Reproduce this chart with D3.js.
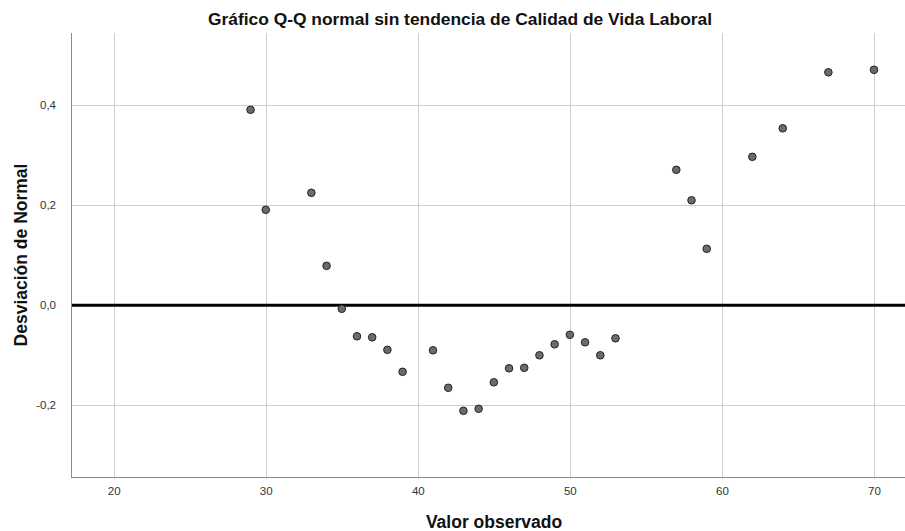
<!DOCTYPE html>
<html>
<head>
<meta charset="utf-8">
<script src="https://cdn.jsdelivr.net/npm/d3@7"></script>
<style>
  html, body { margin: 0; padding: 0; background: #fff; }
  svg { display: block; font-family: "Liberation Sans", Arial, sans-serif; }
</style>
</head>
<body>
<svg id="chart" width="905" height="531"></svg>
<script>
// Observed values and their deviation from the normal expectation
const observed = [29, 30, 33, 34, 35, 36, 37, 38, 39, 41, 42, 43, 44, 45, 46, 47, 48, 49, 50, 51, 52, 53, 57, 58, 59, 62, 64, 67, 70];
const deviation = [0.391, 0.191, 0.225, 0.079, -0.007, -0.062, -0.064, -0.089, -0.133, -0.090, -0.165, -0.211, -0.207, -0.154, -0.126, -0.125, -0.100, -0.078, -0.059, -0.074, -0.100, -0.066, 0.271, 0.210, 0.113, 0.297, 0.354, 0.466, 0.471];
const xTicks = [20, 30, 40, 50, 60, 70];
const yTicks = [-0.2, 0.0, 0.2, 0.4];

const title = "Gráfico Q-Q normal sin tendencia de Calidad de Vida Laboral";
const xTitle = "Valor observado";
const yTitle = "Desviación de Normal";

const plot = { left: 71, right: 905, top: 33, bottom: 477 };

const x = d3.scaleLinear().domain([17.192, 72.04]).range([plot.left, plot.right]);
const y = d3.scaleLinear().domain([-0.3434, 0.5446]).range([plot.bottom, plot.top]);

const svg = d3.select("#chart");
const fmt = v => d3.format(".1f")(v).replace(".", ",").replace("−", "-");

// Grid lines
svg.append("g").selectAll("line").data(xTicks).join("line")
  .attr("x1", d => Math.round(x(d)) + 0.5).attr("x2", d => Math.round(x(d)) + 0.5)
  .attr("y1", plot.top).attr("y2", plot.bottom)
  .attr("stroke", "#cfcfcf").attr("stroke-width", 1);
svg.append("g").selectAll("line").data(yTicks).join("line")
  .attr("x1", plot.left).attr("x2", plot.right)
  .attr("y1", d => Math.round(y(d)) + 0.5).attr("y2", d => Math.round(y(d)) + 0.5)
  .attr("stroke", "#cfcfcf").attr("stroke-width", 1);

// Axes
const xAxis = d3.axisBottom(x).tickValues(xTicks).tickFormat(d3.format("d")).tickSize(0).tickPadding(10);
const yAxis = d3.axisLeft(y).tickValues(yTicks).tickFormat(fmt).tickSize(0).tickPadding(15);

const gx = svg.append("g").attr("transform", `translate(0,${plot.bottom})`).call(xAxis);
const gy = svg.append("g").attr("transform", `translate(${plot.left},0)`).call(yAxis);
[gx, gy].forEach(g => {
  g.select(".domain").remove();
  g.selectAll("text").attr("font-size", 11.5).attr("fill", "#333")
    .attr("font-family", "'Liberation Sans', Arial, sans-serif");
});

svg.append("line").attr("x1", plot.left + 0.5).attr("x2", plot.left + 0.5)
  .attr("y1", plot.top).attr("y2", plot.bottom + 0.5)
  .attr("stroke", "#8a8a8a").attr("stroke-width", 1);
svg.append("line").attr("x1", plot.left).attr("x2", plot.right)
  .attr("y1", plot.bottom + 0.5).attr("y2", plot.bottom + 0.5)
  .attr("stroke", "#8a8a8a").attr("stroke-width", 1);

// Reference line at zero deviation
svg.append("line").attr("x1", plot.left + 1).attr("x2", plot.right)
  .attr("y1", y(0)).attr("y2", y(0))
  .attr("stroke", "#000").attr("stroke-width", 3);

// Points
svg.append("g").selectAll("circle").data(observed).join("circle")
  .attr("cx", (d, i) => x(d)).attr("cy", (d, i) => y(deviation[i]))
  .attr("r", 3.8)
  .attr("fill", "#6b6b6b").attr("stroke", "#222").attr("stroke-width", 1);

// Titles
svg.append("text").attr("x", 460).attr("y", 25).attr("text-anchor", "middle")
  .attr("font-size", 17.4).attr("font-weight", "bold").attr("fill", "#111").text(title);
svg.append("text").attr("x", 494).attr("y", 528).attr("text-anchor", "middle")
  .attr("font-size", 17.5).attr("font-weight", "bold").attr("fill", "#111").text(xTitle);
svg.append("text").attr("transform", "translate(27,255) rotate(-90)").attr("text-anchor", "middle")
  .attr("font-size", 17.5).attr("font-weight", "bold").attr("fill", "#111").text(yTitle);
</script>
</body>
</html>
